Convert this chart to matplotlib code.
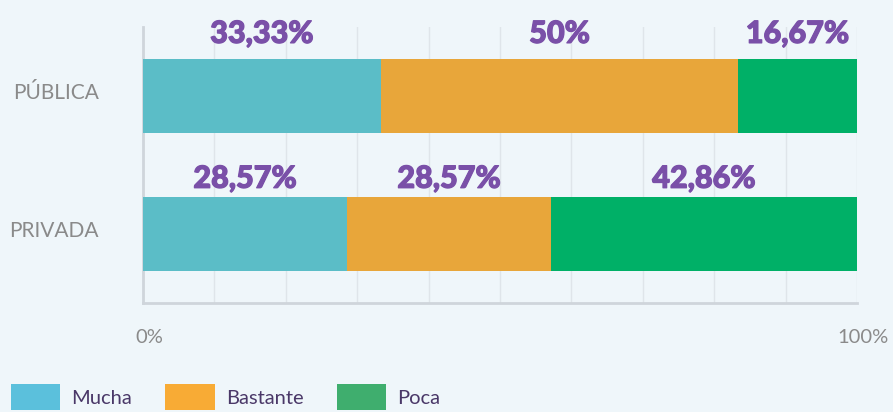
import matplotlib
matplotlib.use("Agg")
import matplotlib.pyplot as plt
import matplotlib.patheffects as pe
import matplotlib.transforms as mtransforms
from matplotlib.patches import Patch

plt.rcParams['font.family'] = ['Lato', 'DejaVu Sans']

categories = ['PÚBLICA', 'PRIVADA']
series_names = ['Mucha', 'Bastante', 'Poca']
mucha = [33.33, 28.57]
bastante = [50, 28.57]
poca = [16.67, 42.86]

bar_colors = ['#5bbdc7', '#e8a63a', '#00b067']
legend_colors = ['#5bc0dc', '#f8ab35', '#3fae6e']
bg = '#eff6fa'
label_lift = [0.45, 0.40]  # how far above the bar centre the value labels sit

fig = plt.figure(figsize=(8.93, 4.12), dpi=100, facecolor=bg)
ax = fig.add_axes([143/893, 1-303/412, 714/893, 276/412])
ax.set_facecolor(bg)

ypos = list(range(len(categories)))
left = [0] * len(categories)
for name, vals, col in zip(series_names, [mucha, bastante, poca], bar_colors):
    ax.barh(ypos, vals, left=left, height=0.535, color=col, zorder=3)
    for i, v in enumerate(vals):
        txt = f"{v:g}".replace('.', ',') + '%'
        ax.text(left[i] + v / 2, ypos[i] - label_lift[i], txt, ha='center', va='center',
                fontsize=22, fontweight='black', color='#7a50a8', zorder=4,
                path_effects=[pe.withStroke(linewidth=0.9, foreground='#7a50a8')])
    left = [a + b for a, b in zip(left, vals)]

ax.set_xlim(0, 100)
ax.set_ylim(1.5, -0.5)
ax.set_xticks([0, 100])
ax.set_xticklabels(['0%', '100%'])
ax.set_yticks(ypos)
ax.set_yticklabels(categories)
ax.tick_params(axis='x', length=0, pad=19, labelsize=14.5, labelcolor='#8a8a8a')
ax.tick_params(axis='y', length=0, pad=32, labelsize=15, labelcolor='#8a8a8a')

up = mtransforms.ScaledTranslation(0, 5/100, fig.dpi_scale_trans)
right = mtransforms.ScaledTranslation(6/100, 0, fig.dpi_scale_trans)
for lbl in ax.get_yticklabels():
    lbl.set_transform(lbl.get_transform() + up)
for lbl in ax.get_xticklabels():
    lbl.set_transform(lbl.get_transform() + right)

for gx in range(0, 101, 10):
    ax.axvline(gx, color='#dfe5ea', linewidth=1, zorder=1)

for s in ['top', 'right']:
    ax.spines[s].set_visible(False)
for s in ['left', 'bottom']:
    ax.spines[s].set_color('#cfd5db')
    ax.spines[s].set_linewidth(2)

handles = [Patch(facecolor=c, edgecolor='none') for c in legend_colors]
fig.legend(handles, series_names, loc='upper left', bbox_to_anchor=(11/893, 1-384/412),
           ncol=3, frameon=False, fontsize=14.5, labelcolor='#4a3868',
           handlelength=2.45, handleheight=1.6, handletextpad=0.55,
           columnspacing=1.65, borderpad=0, borderaxespad=0)

fig.savefig('out.png', dpi=100, facecolor=bg)
